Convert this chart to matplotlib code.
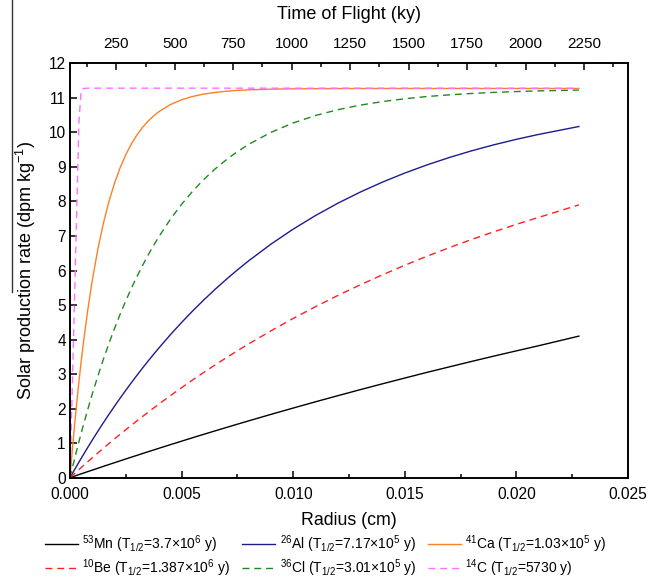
import matplotlib
matplotlib.use("Agg")
import matplotlib.pyplot as plt
from matplotlib.lines import Line2D
from matplotlib.ticker import MultipleLocator

plt.rcParams['font.family'] = ['Liberation Sans', 'DejaVu Sans']
plt.rcParams['mathtext.fontset'] = 'custom'
plt.rcParams['mathtext.rm'] = 'Liberation Sans'
plt.rcParams['mathtext.it'] = 'Liberation Sans'
plt.rcParams['mathtext.bf'] = 'Liberation Sans'

# Radius grid (cm)
radius = [0, 0.0001, 0.0002, 0.0003, 0.0004, 0.0005, 0.0006, 0.0008, 0.001,
          0.00125, 0.0015, 0.00175, 0.002, 0.00225, 0.0025, 0.00275, 0.003,
          0.00325, 0.0035, 0.00375, 0.004, 0.0045, 0.005, 0.0055, 0.006,
          0.0065, 0.007, 0.0075, 0.008, 0.009, 0.010, 0.011, 0.012, 0.013,
          0.014, 0.015, 0.016, 0.017, 0.018, 0.019, 0.020, 0.021, 0.0228]

mn53 = [0, 0.022, 0.044, 0.067, 0.089, 0.111, 0.133, 0.177, 0.220,
        0.274, 0.329, 0.382, 0.436, 0.489, 0.542, 0.595, 0.647,
        0.700, 0.752, 0.803, 0.855, 0.957, 1.058, 1.159, 1.258,
        1.356, 1.453, 1.550, 1.645, 1.833, 2.017, 2.198, 2.375, 2.549,
        2.719, 2.886, 3.051, 3.210, 3.368, 3.523, 3.673, 3.822, 4.10]
al26 = [0, 0.114, 0.227, 0.339, 0.450, 0.559, 0.668, 0.881, 1.091,
        1.347, 1.596, 1.839, 2.076, 2.307, 2.532, 2.752, 2.966,
        3.175, 3.378, 3.576, 3.770, 4.142, 4.496, 4.832, 5.151,
        5.455, 5.743, 6.017, 6.278, 6.762, 7.198, 7.592, 7.948, 8.269,
        8.560, 8.822, 9.059, 9.273, 9.467, 9.641, 9.799, 9.941, 10.17]
ca41 = [0, 0.771, 1.490, 2.158, 2.781, 3.362, 3.904, 4.877, 5.722,
        6.623, 7.377, 8.009, 8.539, 8.982, 9.354, 9.665, 9.925,
        10.144, 10.327, 10.480, 10.608, 10.806, 10.944, 11.041, 11.110,
        11.157, 11.191, 11.215, 11.231, 11.251, 11.261, 11.265, 11.268, 11.27,
        11.27, 11.27, 11.27, 11.27, 11.27, 11.27, 11.27, 11.27, 11.27]
be10 = [0, 0.059, 0.118, 0.177, 0.235, 0.293, 0.350, 0.465, 0.578,
        0.718, 0.855, 0.992, 1.126, 1.259, 1.390, 1.519, 1.646,
        1.772, 1.896, 2.019, 2.140, 2.377, 2.608, 2.833, 3.052,
        3.265, 3.473, 3.675, 3.873, 4.252, 4.612, 4.953, 5.277, 5.584,
        5.875, 6.152, 6.415, 6.663, 6.900, 7.124, 7.337, 7.538, 7.90]
cl36 = [0, 0.270, 0.534, 0.791, 1.042, 1.287, 1.526, 1.987, 2.428,
        2.947, 3.437, 3.898, 4.331, 4.739, 5.123, 5.485, 5.826,
        6.146, 6.448, 6.731, 6.997, 7.486, 7.918, 8.300, 8.639,
        8.940, 9.205, 9.442, 9.650, 9.999, 10.273, 10.488, 10.656, 10.788,
        10.892, 10.973, 11.038, 11.087, 11.127, 11.158, 11.182, 11.201, 11.225]
c14 = [0, 2.55, 5.10, 7.70, 10.30, 11.22, 11.27, 11.28, 11.28,
       11.28, 11.28, 11.28, 11.28, 11.28, 11.28, 11.28, 11.28,
       11.28, 11.28, 11.28, 11.28, 11.28, 11.28, 11.28, 11.28,
       11.28, 11.28, 11.28, 11.28, 11.28, 11.28, 11.28, 11.28, 11.28,
       11.28, 11.28, 11.28, 11.28, 11.28, 11.28, 11.28, 11.28, 11.28]

labels = {
    'mn': r'$^{53}$Mn (T$_{1/2}$=3.7×10$^{6}$ y)',
    'al': r'$^{26}$Al (T$_{1/2}$=7.17×10$^{5}$ y)',
    'ca': r'$^{41}$Ca (T$_{1/2}$=1.03×10$^{5}$ y)',
    'be': r'$^{10}$Be (T$_{1/2}$=1.387×10$^{6}$ y)',
    'cl': r'$^{36}$Cl (T$_{1/2}$=3.01×10$^{5}$ y)',
    'c': r'$^{14}$C (T$_{1/2}$=5730 y)',
}

top_ticks = [250, 500, 750, 1000, 1250, 1500, 1750, 2000, 2250]

fig = plt.figure(figsize=(6.68, 5.81), dpi=100)
ax = fig.add_axes([70/668, 1-477.7/581, 558/668, (477.7-63.3)/581])

lw = 1.0
dash = (0, (5, 3.5))
l_mn, = ax.plot(radius, mn53, color='#000000', lw=lw, label=labels['mn'])
l_al, = ax.plot(radius, al26, color='#1c1c8c', lw=lw, label=labels['al'])
l_be, = ax.plot(radius, be10, color='#ff2020', lw=lw, ls=dash, label=labels['be'])
l_cl, = ax.plot(radius, cl36, color='#1f8a1f', lw=lw, ls=dash, label=labels['cl'])
l_ca, = ax.plot(radius, ca41, color='#ff8024', lw=lw, label=labels['ca'])
l_c, = ax.plot(radius, c14, color='#ff70ff', lw=lw, ls=dash, label=labels['c'])

ax.set_xlim(0, 0.025)
ax.set_ylim(0, 12)
ax.xaxis.set_major_locator(MultipleLocator(0.005))
ax.xaxis.set_minor_locator(MultipleLocator(0.0025))
ax.yaxis.set_major_locator(MultipleLocator(1))
ax.set_xticklabels([f'{v:.3f}' for v in ax.get_xticks()])
ax.tick_params(axis='both', which='major', direction='in', length=5, width=1.1,
               labelsize=11.2, top=False, right=False)
ax.tick_params(axis='x', which='minor', direction='in', length=3, width=1.1)
ax.tick_params(axis='y', which='minor', left=False, right=False)
ax.tick_params(axis='x', pad=7)
ax.tick_params(axis='y', pad=3)
for s in ax.spines.values():
    s.set_linewidth(1.2)

ax.set_xlabel('Radius (cm)', fontsize=12.8, labelpad=7)
ax.set_ylabel(r'Solar production rate (dpm kg$^{-1}$)', fontsize=13, labelpad=8)

ax2 = ax.twiny()
ax2.set_xlim(52.0, 2438)
ax2.set_xticks(top_ticks)
ax2.xaxis.set_minor_locator(MultipleLocator(125))
ax2.tick_params(axis='x', which='major', direction='in', length=5, width=1.1,
                labelsize=11, pad=8.5)
ax2.tick_params(axis='x', which='minor', direction='in', length=3, width=1.1)
ax2.set_xlabel('Time of Flight (ky)', fontsize=13, labelpad=13)
for s in ax2.spines.values():
    s.set_linewidth(1.2)

handles = [l_mn, l_be, l_al, l_cl, l_ca, l_c]
fig.legend(handles=handles, labels=[h.get_label() for h in handles], ncol=3,
           loc='upper left', bbox_to_anchor=(39/668, 1-528/581), frameon=False,
           fontsize=10, handlelength=2.4, handletextpad=0.3, columnspacing=0.85,
           labelspacing=0.18, borderaxespad=0)

fig.add_artist(Line2D([12.5/668, 12.5/668], [1.0, 1-292/581], color='#333333', lw=1.0))

fig.savefig('out.png', dpi=100)
